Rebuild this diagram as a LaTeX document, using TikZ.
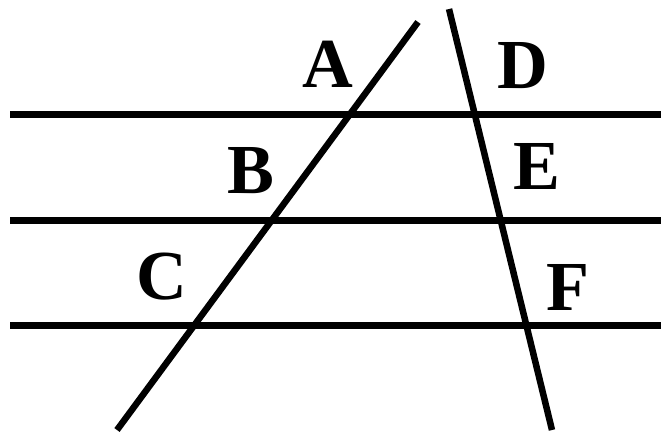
\documentclass[tikz,border=0pt]{standalone}
\usepackage{fontspec}
\setmainfont{Liberation Serif}
\usetikzlibrary{positioning}
\tikzset{
  rule/.style={line width=3.7pt},
  lbl/.style={font=\fontsize{40}{40}\selectfont\bfseries, anchor=base, inner sep=0pt},
}

\begin{document}
\begin{tikzpicture}[x=0.02cm, y=-0.02cm]
\useasboundingbox (0,0) rectangle (666,437);

% parallel lines
\coordinate (h1l) at (10,114.5);  \coordinate (h1r) at (661,114.5);
\coordinate (h2l) at (10,220.5);  \coordinate (h2r) at (661,220.5);
\coordinate (h3l) at (10,325.5);  \coordinate (h3r) at (661,325.5);
\draw[rule] (h1l) -- (h1r);
\draw[rule] (h2l) -- (h2r);
\draw[rule] (h3l) -- (h3r);

% transversals
\coordinate (t1a) at (117,430);  \coordinate (t1b) at (418,22);
\coordinate (t2a) at (449,9);    \coordinate (t2b) at (552,430);
\draw[rule] (t1a) -- (t1b);
\draw[rule] (t2a) -- (t2b);

% labels
\node[lbl] (A) at (328,87) {A};
\node[lbl] (B) at (251,193) {B};
\node[lbl] (C) at (161.5,299) {C};
\node[lbl] (D) at (523,88) {D};
\node[lbl] (E) at (536.5,189) {E};
\node[lbl] (F) at (567.5,310) {F};

\end{tikzpicture}
\end{document}
